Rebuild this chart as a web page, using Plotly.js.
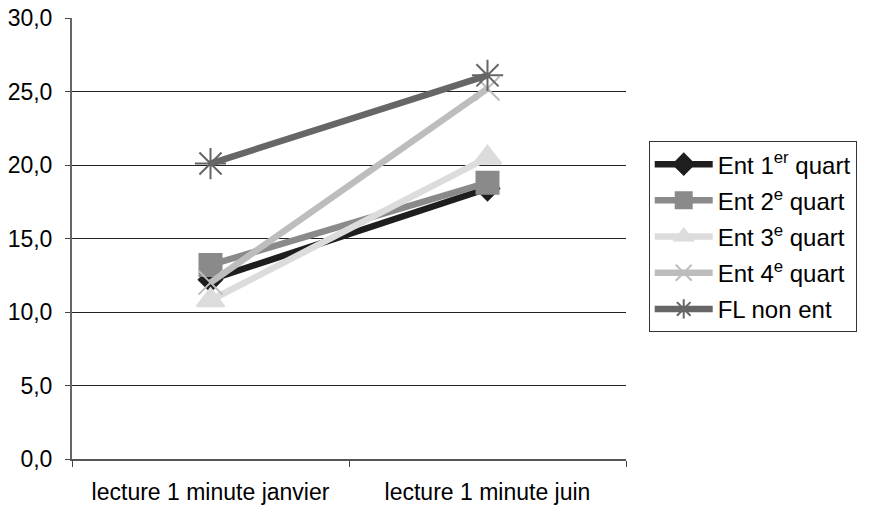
<!DOCTYPE html>
<html><head><meta charset="utf-8">
<script src="https://cdn.plot.ly/plotly-3.0.1.min.js"></script>
<style>body{margin:0;background:#fff}#c{width:869px;height:511px}</style>
</head><body><div id="c"></div>
<script>
const categories = ["lecture 1 minute janvier", "lecture 1 minute juin"];
const seriesNames = ["Ent 1<sup>er</sup> quart", "Ent 2<sup>e</sup> quart", "Ent 3<sup>e</sup> quart", "Ent 4<sup>e</sup> quart", "FL non ent"];
const ent1 = [12.2, 18.4];
const ent2 = [13.2, 18.8];
const ent3 = [10.8, 20.5];
const ent4 = [12.0, 25.2];
const flNonEnt = [20.1, 26.1];
const yTicks = [0, 5, 10, 15, 20, 25, 30];

const values = [ent1, ent2, ent3, ent4, flNonEnt];
const colors = ["#1e1e1e", "#8a8a8a", "#dcdcdc", "#bdbdbd", "#666666"];
const symbols = ["diamond", "square", "triangle-up", "x-thin-open", "asterisk-open"];
const sizes = [18, 22, 24, 24, 26];
const FAM = "Liberation Sans, Arial, sans-serif";

const traces = values.map((v, i) => ({
  x: categories, y: v, name: seriesNames[i], type: "scatter", mode: "lines+markers",
  legendgroup: "g" + i,
  line: {color: colors[i], width: 6.5},
  marker: {symbol: symbols[i], size: sizes[i], color: colors[i], line: {color: colors[i], width: 2}}
}));

Plotly.newPlot("c", traces, {
  width: 869, height: 511,
  margin: {l: 72, r: 241, t: 18, b: 52},
  paper_bgcolor: "#fff", plot_bgcolor: "#fff",
  separators: ", ",
  font: {family: FAM, size: 23, color: "#000"},
  showlegend: true,
  legend: {x: 1.041, xanchor: "left", y: 0.721, yanchor: "top", bordercolor: "#333", borderwidth: 1,
    font: {family: FAM, size: 24, color: "#000"}, tracegroupgap: 2, itemwidth: 58},
  xaxis: {type: "category", range: [-0.5, 1.5], tickson: "boundaries", ticks: "outside", ticklen: 6,
    tickcolor: "#444", showline: true, linecolor: "#555", linewidth: 1.5, showgrid: false, zeroline: false,
    ticklabelstandoff: 12,
    tickfont: {family: FAM, size: 23, color: "#000"}},
  yaxis: {range: [0, 30], tickvals: yTicks, tickformat: ".1f", ticks: "outside", ticklen: 5,
    tickcolor: "#444", showline: true, linecolor: "#666", linewidth: 2, showgrid: true, gridcolor: "#222",
    gridwidth: 1, zeroline: false, ticklabelstandoff: 8,
    tickfont: {family: FAM, size: 23, color: "#000"}}
}, {staticPlot: true});
</script></body></html>
